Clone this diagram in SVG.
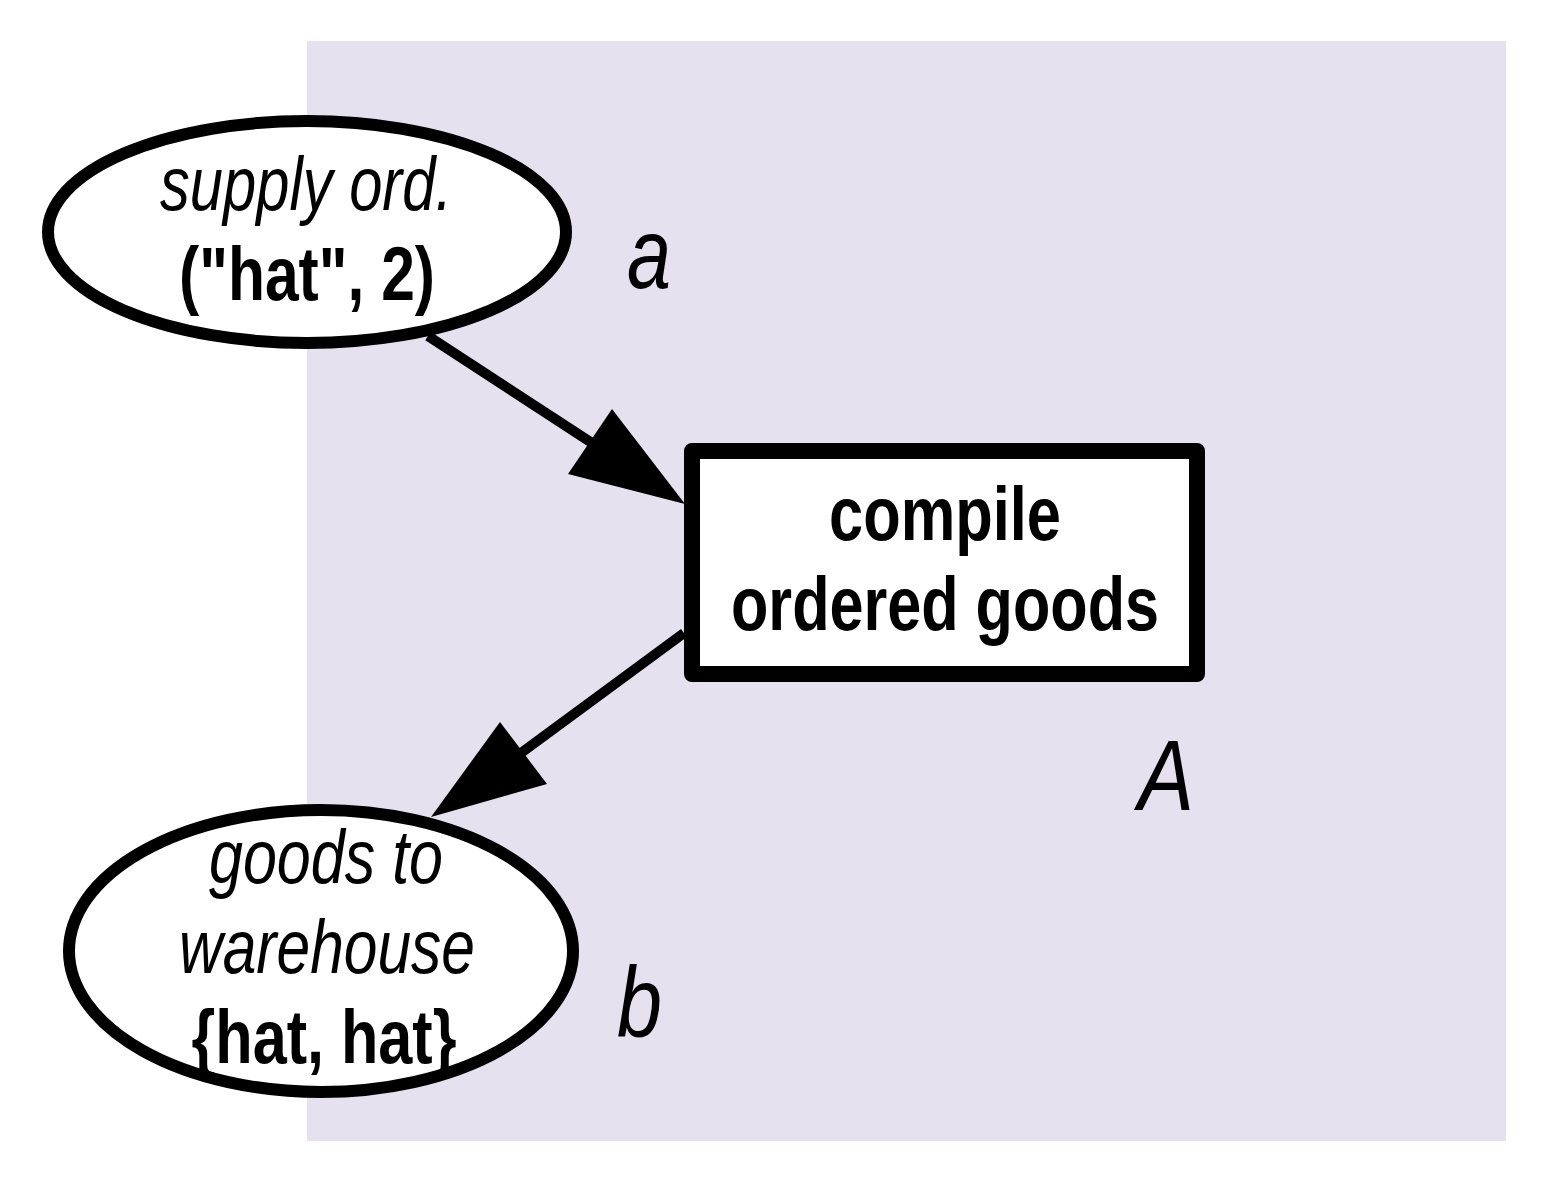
<svg xmlns="http://www.w3.org/2000/svg" width="1548" height="1184" viewBox="0 0 1548 1184">
<style>
.node{fill:#ffffff;stroke:#000000;stroke-width:12}
.box{fill:#ffffff;stroke:#000000;stroke-width:16;stroke-linejoin:round}
.edge{stroke:#000000;stroke-width:10;fill:none}
.head{fill:#000000;stroke:none}
.t{font-family:"Liberation Sans",Arial,sans-serif;font-size:76px;fill:#000000}
.i{font-style:italic}
.b{font-weight:bold}
.lbl{font-family:"Liberation Sans",Arial,sans-serif;font-size:100px;font-style:italic;fill:#000000}
</style>
<rect id="region" x="307" y="41" width="1199" height="1100" fill="#e6e1ee"/>
<g id="connectors">
<line class="edge" x1="428" y1="336" x2="592" y2="443"/>
<polygon class="head" points="685,504 612,409 568,474"/>
<line class="edge" x1="684" y1="633" x2="521" y2="753"/>
<polygon class="head" points="431,817 500,722 547,784"/>
</g>
<g id="supply">
<ellipse class="node" cx="307" cy="232" rx="259" ry="111"/>
<text class="t i" x="306" y="210" text-anchor="middle" textLength="292" lengthAdjust="spacingAndGlyphs">supply ord.</text>
<text class="t b" x="307" y="300" text-anchor="middle" textLength="256" lengthAdjust="spacingAndGlyphs">("hat", 2)</text>
<text class="lbl" x="627" y="288" textLength="44" lengthAdjust="spacingAndGlyphs">a</text>
</g>
<g id="compile">
<rect class="box" x="692" y="451" width="505" height="223"/>
<text class="t b" x="945" y="540" text-anchor="middle" textLength="232" lengthAdjust="spacingAndGlyphs">compile</text>
<text class="t b" x="945" y="630" text-anchor="middle" textLength="428" lengthAdjust="spacingAndGlyphs">ordered goods</text>
<text class="lbl" x="1138" y="810" textLength="56" lengthAdjust="spacingAndGlyphs">A</text>
</g>
<g id="goods">
<ellipse class="node" cx="321" cy="951" rx="252" ry="141"/>
<text class="t i" x="326" y="883" text-anchor="middle" textLength="234" lengthAdjust="spacingAndGlyphs">goods to</text>
<text class="t i" x="327" y="973" text-anchor="middle" textLength="296" lengthAdjust="spacingAndGlyphs">warehouse</text>
<text class="t b" x="324" y="1063" text-anchor="middle" textLength="265" lengthAdjust="spacingAndGlyphs">{hat, hat}</text>
<text class="lbl" x="617" y="1037" textLength="45" lengthAdjust="spacingAndGlyphs">b</text>
</g>
</svg>
